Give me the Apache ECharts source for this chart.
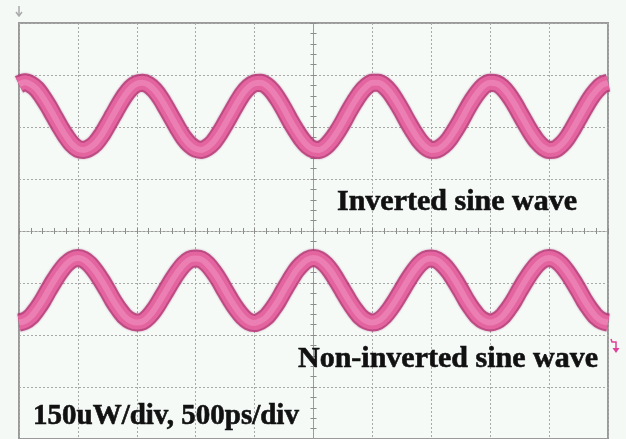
<!DOCTYPE html>
<html>
<head>
<meta charset="utf-8">
<script src="https://cdn.jsdelivr.net/npm/echarts@6/dist/echarts.min.js"></script>
<style>
html,body{margin:0;padding:0;background:#f4f9f6;}
#chart{width:626px;height:439px;}
</style>
</head>
<body>
<div id="chart"></div>
<script>
// time axis in ps (centre of screen = 0), 500 ps/div
const timePs = [-2500,-2450,-2400,-2350,-2300,-2250,-2200,-2150,-2100,-2050,
  -2000,-1950,-1900,-1850,-1800,-1750,-1700,-1650,-1600,-1550,
  -1500,-1450,-1400,-1350,-1300,-1250,-1200,-1150,-1100,-1050,
  -1000,-950,-900,-850,-800,-750,-700,-650,-600,-550,
  -500,-450,-400,-350,-300,-250,-200,-150,-100,-50,
  0,50,100,150,200,250,300,350,400,450,
  500,550,600,650,700,750,800,850,900,950,
  1000,1050,1100,1150,1200,1250,1300,1350,1400,1450,
  1500,1550,1600,1650,1700,1750,1800,1850,1900,1950,
  2000,2050,2100,2150,2200,2250,2300,2350,2400,2450,2500];
// trace levels in divisions (150 uW/div); screen spans -4..4 div
const invertedDiv = [2.82,2.86,2.82,2.73,2.58,2.40,2.20,2.00,1.82,1.67,1.58,1.56,1.60,1.69,1.84,2.03,2.23,2.43,2.61,2.75,2.83,
  2.85,2.81,2.71,2.56,2.37,2.17,1.97,1.79,1.66,1.58,1.56,1.61,1.71,1.87,2.06,2.26,2.46,2.64,2.77,2.84,
  2.85,2.80,2.69,2.53,2.34,2.13,1.94,1.77,1.64,1.57,1.56,1.62,1.74,1.90,2.09,2.30,2.49,2.66,2.78,2.85,
  2.85,2.79,2.67,2.50,2.31,2.10,1.91,1.74,1.62,1.56,1.57,1.64,1.76,1.93,2.12,2.33,2.52,2.68,2.80,2.85,
  2.84,2.77,2.64,2.47,2.27,2.07,1.88,1.72,1.61,1.56,1.57,1.65,1.78,1.96,2.16,2.36,2.55,2.70,2.81,2.85];
const nonInvertedDiv = [-1.76,-1.73,-1.65,-1.51,-1.34,-1.14,-0.95,-0.78,-0.64,-0.55,-0.52,-0.55,-0.64,-0.78,-0.95,-1.14,-1.34,-1.51,-1.65,-1.73,
  -1.76,-1.74,-1.65,-1.51,-1.33,-1.14,-0.95,-0.78,-0.64,-0.55,-0.53,-0.55,-0.64,-0.78,-0.95,-1.15,-1.34,-1.51,-1.65,-1.74,
  -1.77,-1.73,-1.65,-1.51,-1.34,-1.14,-0.95,-0.77,-0.64,-0.55,-0.52,-0.55,-0.64,-0.78,-0.96,-1.15,-1.34,-1.51,-1.65,-1.73,
  -1.76,-1.73,-1.64,-1.50,-1.33,-1.14,-0.95,-0.78,-0.64,-0.55,-0.53,-0.56,-0.65,-0.78,-0.95,-1.14,-1.34,-1.51,-1.65,-1.73,
  -1.76,-1.73,-1.65,-1.51,-1.34,-1.14,-0.95,-0.78,-0.64,-0.55,-0.52,-0.55,-0.64,-0.78,-0.95,-1.14,-1.34,-1.51,-1.65,-1.73,
  -1.76];
const labels = {
  inverted: 'Inverted sine wave',
  nonInverted: 'Non-inverted sine wave',
  scale: '150uW/div, 500ps/div'
};

const chart = echarts.init(document.getElementById('chart'), null, {renderer:'canvas'});
const grid = '#a8a8a8';
function pairs(vals){ return timePs.map((t,i)=>[t, vals[i]]); }
function traceLayers(vals){
  const d = pairs(vals);
  return [
    {type:'line', data:d, smooth:0.3, showSymbol:false, silent:true, z:3,
     lineStyle:{width:18, color:'#b93577', opacity:0.8, shadowBlur:2, shadowColor:'rgba(140,20,80,0.55)'}},
    {type:'line', data:d, smooth:0.3, showSymbol:false, silent:true, z:4,
     lineStyle:{width:14, color:'#e4649f'}},
    {type:'line', data:d, smooth:0.3, showSymbol:false, silent:true, z:5,
     lineStyle:{width:6, color:'#f194c1', opacity:0.55}}
  ];
}
const axTick = {show:true, inside:true, length:3, lineStyle:{color:'#8c8c8c', width:1}};
const minTick = {show:true, splitNumber:5, length:3, lineStyle:{color:'#8c8c8c', width:1}};
const axLine = {show:true, onZero:true, lineStyle:{color:'#9a9a9a', width:1, type:[2,2]}};

const font = 'bold 30px "Liberation Serif", "Times New Roman", serif';
chart.setOption({
  animation:false,
  backgroundColor:'#f4f9f6',
  grid:{left:19, top:23, width:589, height:419.2, show:true, borderColor:'#9a9a9a', borderWidth:2, backgroundColor:'#f5faf7'},
  xAxis:[
    {type:'value', min:-2500, max:2500, interval:500, position:'bottom',
     axisLine:axLine, axisTick:axTick, minorTick:minTick, axisLabel:{show:false},
     splitLine:{show:true, lineStyle:{color:grid, width:1, type:[2,2]}}},
    {type:'value', min:-2500, max:2500, interval:500, position:'top',
     axisLine:axLine, axisTick:axTick, minorTick:minTick, axisLabel:{show:false},
     splitLine:{show:false}}
  ],
  yAxis:[
    {type:'value', min:-4, max:4, interval:1, position:'left',
     axisLine:axLine, axisTick:axTick, minorTick:minTick, axisLabel:{show:false},
     splitLine:{show:true, lineStyle:{color:grid, width:1, type:[2,2]}}},
    {type:'value', min:-4, max:4, interval:1, position:'right',
     axisLine:axLine, axisTick:axTick, minorTick:minTick, axisLabel:{show:false},
     splitLine:{show:false}}
  ],
  series:[].concat(traceLayers(invertedDiv), traceLayers(nonInvertedDiv)),
  graphic:[
    {type:'text', z:100, style:{text:labels.inverted, x:337, y:202, font:font, fill:'#111', stroke:'#111', lineWidth:0.6, align:'left', verticalAlign:'middle'}},
    {type:'text', z:100, style:{text:labels.nonInverted, x:298, y:359, font:font, fill:'#111', stroke:'#111', lineWidth:0.6, align:'left', verticalAlign:'middle'}},
    {type:'text', z:100, style:{text:labels.scale, x:33, y:417, font:'bold 29px "Liberation Serif", "Times New Roman", serif', fill:'#111', stroke:'#111', lineWidth:0.6, align:'left', verticalAlign:'middle'}},
    {type:'polyline', z:100, shape:{points:[[19,6],[19,16]]}, style:{stroke:'#a9a9a9', lineWidth:1.5, fill:null}},
    {type:'polyline', z:100, shape:{points:[[16,12],[19,16],[22,12]]}, style:{stroke:'#a9a9a9', lineWidth:1.5, fill:null}},
    {type:'polyline', z:100, shape:{points:[[611,339],[612,342],[616,342],[616,350]]}, style:{stroke:'#e0409a', lineWidth:1.5, fill:null}},
    {type:'polygon', z:100, shape:{points:[[612.5,348],[619.5,348],[616,353]]}, style:{fill:'#e0409a'}}
  ]
});
</script>
</body>
</html>
